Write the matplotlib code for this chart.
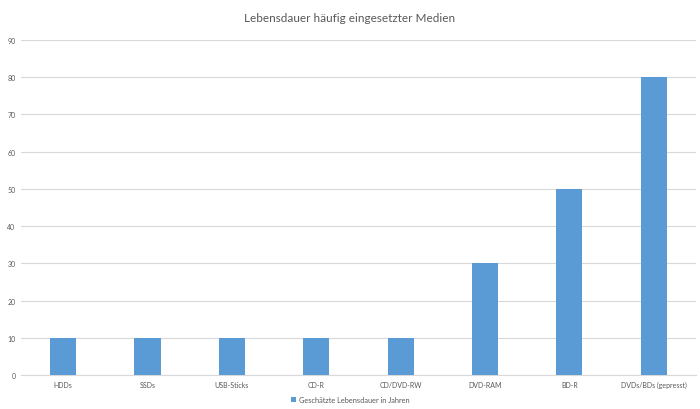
import numpy as np
import matplotlib.pyplot as plt

categories = ['HDDs', 'SSDs', 'USB-Sticks', 'CD-R', 'CD/DVD-RW', 'DVD-RAM', 'BD-R', 'DVDs/BDs (gepresst)']
lifetime = [10, 10, 10, 10, 10, 30, 50, 80]
series_name = 'Geschätzte Lebensdauer in Jahren'

plt.rcParams['font.family'] = ['Lato', 'DejaVu Sans']
text_col = '#595959'

fig = plt.figure(figsize=(7, 4.1), dpi=100)
ax = fig.add_axes([0.03, 0.083, 0.964, 0.817])

x = np.arange(len(categories))
ax.bar(x, lifetime, width=0.31, color='#5B9BD5', label=series_name, zorder=3)

ax.set_xlim(-0.5, len(categories) - 0.5)
ax.set_ylim(0, 90)
ax.set_yticks(range(0, 91, 10))
ax.set_xticks(x)
ax.set_xticklabels(categories)
ax.grid(axis='y', color='#D9D9D9', linewidth=0.8, zorder=0)
for s in ['top', 'right', 'left']:
    ax.spines[s].set_visible(False)
ax.spines['bottom'].set_color('#D9D9D9')
ax.tick_params(axis='both', length=0, labelsize=5, colors=text_col, pad=4)

fig.text(0.5, 0.954, 'Lebensdauer häufig eingesetzter Medien', ha='center', va='center',
         fontsize=8.5, color=text_col)
fig.legend(loc='center', bbox_to_anchor=(0.5, 0.024), frameon=False, fontsize=5.3,
           handlelength=0.7, handleheight=0.7, handletextpad=0.4, labelcolor=text_col)

plt.savefig('out.png', dpi=100)
